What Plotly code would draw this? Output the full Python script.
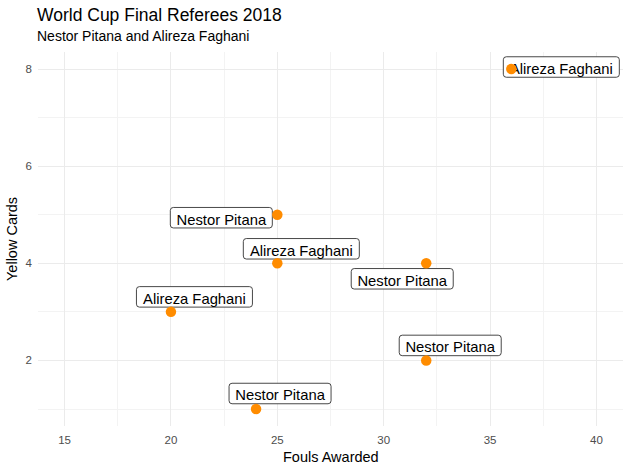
import plotly.graph_objects as go

# referee match data
referees = ["Alireza Faghani", "Nestor Pitana", "Alireza Faghani", "Nestor Pitana",
            "Alireza Faghani", "Nestor Pitana", "Nestor Pitana"]
fouls = [36, 25, 25, 32, 20, 32, 24]
yellow_cards = [8, 5, 4, 4, 3, 2, 1]

# repelled label offsets in pixels (dx right, dy up), picked to look like ggrepel
label_shift = [(50, 2), (-56, -3), (24, 14.5), (-24, -15.5), (23.5, 15), (24, 15), (24, 15.5)]
box_width = {"Nestor Pitana": 102, "Alireza Faghani": 116}
BOX_H = 20.5
R = 3

FONT = "Liberation Sans, Arial, Helvetica, sans-serif"


def rounded_box(x0, x1, y0, y1, r):
    return (f"M {x0 + r},{y0} L {x1 - r},{y0} Q {x1},{y0} {x1},{y0 + r} "
            f"L {x1},{y1 - r} Q {x1},{y1} {x1 - r},{y1} L {x0 + r},{y1} "
            f"Q {x0},{y1} {x0},{y1 - r} L {x0},{y0 + r} Q {x0},{y0} {x0 + r},{y0} Z")


fig = go.Figure()
fig.add_trace(go.Scatter(
    x=fouls, y=yellow_cards, mode="markers",
    marker=dict(color="#FF8C00", size=10.5, line=dict(width=0)),
    hoverinfo="skip", showlegend=False,
))

shapes = []
for name, fx, fy, (dx, dy) in zip(referees, fouls, yellow_cards, label_shift):
    w = box_width[name]
    shapes.append(dict(
        type="path", layer="between",
        xref="x", yref="y", xsizemode="pixel", ysizemode="pixel",
        xanchor=fx, yanchor=fy,
        path=rounded_box(dx - w / 2, dx + w / 2, dy - BOX_H / 2, dy + BOX_H / 2, R),
        fillcolor="white", line=dict(color="#333333", width=0.9),
        label=dict(text=name, textposition="middle center",
                   font=dict(family=FONT, size=14.8, color="black")),
    ))

annotations = [
    dict(x=0, y=1, xref="paper", yref="paper", xanchor="left", yanchor="bottom",
         xshift=-3, yshift=25, text="World Cup Final Referees 2018", showarrow=False,
         font=dict(family=FONT, size=17.5, color="black")),
    dict(x=0, y=1, xref="paper", yref="paper", xanchor="left", yanchor="bottom",
         xshift=-3, yshift=6, text="Nestor Pitana and Alireza Faghani", showarrow=False,
         font=dict(family=FONT, size=14, color="black")),
    dict(x=0.5, y=0, xref="paper", yref="paper", xanchor="center", yanchor="top",
         yshift=-21, text="Fouls Awarded", showarrow=False,
         font=dict(family=FONT, size=14.5, color="black")),
    dict(x=0, y=0.5, xref="paper", yref="paper", xanchor="right", yanchor="middle",
         xshift=-16, text="Yellow Cards", textangle=-90, showarrow=False,
         font=dict(family=FONT, size=14.5, color="black")),
]

axis_common = dict(
    showline=False, zeroline=False, ticks="", automargin=False,
    gridcolor="#EBEBEB", gridwidth=1.1, ticklabelstandoff=5,
    tickfont=dict(family=FONT, size=11.5, color="#4D4D4D"),
)

fig.update_layout(
    width=631, height=470,
    plot_bgcolor="white", paper_bgcolor="white",
    margin=dict(l=38, r=8, t=52, b=44),
    shapes=shapes,
    annotations=annotations,
    xaxis=dict(range=[13.75, 41.25], dtick=5, tick0=15,
               minor=dict(dtick=2.5, tick0=15, showgrid=True, gridcolor="#F3F3F3", gridwidth=0.6),
               **axis_common),
    yaxis=dict(range=[0.65, 8.35], dtick=2, tick0=0,
               minor=dict(dtick=1, tick0=0, showgrid=True, gridcolor="#F3F3F3", gridwidth=0.6),
               **axis_common),
)

# the page body has a default 8px margin; drop it so the figure fills the window
fig.write_html("out.html", config={"displayModeBar": False},
               post_script="document.body.style.margin = '0';")
